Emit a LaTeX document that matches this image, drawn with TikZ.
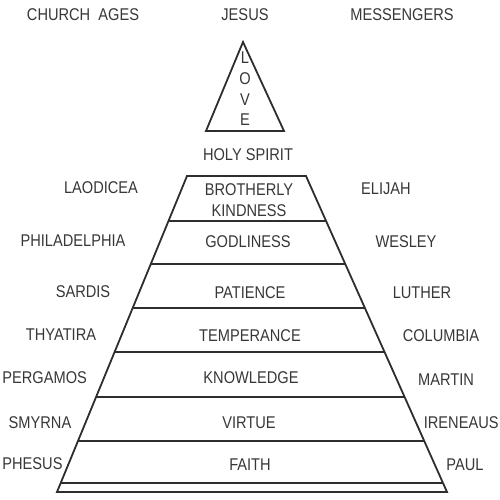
\documentclass[tikz,border=0pt]{standalone}
\usepackage{fontspec}
\setmainfont[FakeStretch=0.86]{Liberation Sans}
\usetikzlibrary{calc}
\definecolor{myink}{RGB}{45,45,45}
\definecolor{mytext}{RGB}{55,55,55}

\begin{document}
\begin{tikzpicture}[x=0.5pt,y=-0.5pt,
  lbl/.style={text=mytext,inner sep=0pt,font=\fontsize{8.5}{10}\selectfont},
  edge/.style={myink,line width=0.9pt}]
\useasboundingbox (0,0) rectangle (500,500);

% headings
\node[lbl] (ages) at (83,15) {CHURCH\ \ AGES};
\node[lbl] (jesus) at (245,15) {JESUS};
\node[lbl] (msg) at (402,15) {MESSENGERS};

% love triangle
\draw[edge,line join=miter] (243,42) -- (284,131) -- (206,131) -- cycle;
\foreach \n/\l/\y in {l/L/58,o/O/79,v/V/100,e/E/120}{
  \node[lbl] (love-\n) at (245,\y) {\l};
}
\node[lbl] (spirit) at (248,155) {HOLY SPIRIT};

% pyramid
\coordinate (tl) at (187,176);
\coordinate (tr) at (306,176);
\coordinate (bl) at (57,492);
\coordinate (br) at (447,492);
\draw[edge] (tl) -- (tr) -- (br) -- (bl) -- cycle;
\foreach \t in {0.1424,0.2785,0.4177,0.5570,0.6994,0.8386,0.9715}{
  \draw[edge] ($(tl)!\t!(bl)$) -- ($(tr)!\t!(br)$);
}

% virtues
\node[lbl] (brother) at (249,190) {BROTHERLY};
\node[lbl] (kind) at (249,211) {KINDNESS};
\node[lbl] (godly) at (248,242) {GODLINESS};
\node[lbl] (patience) at (250,293) {PATIENCE};
\node[lbl] (temper) at (250,336) {TEMPERANCE};
\node[lbl] (know) at (251,378) {KNOWLEDGE};
\node[lbl] (virtue) at (249,423) {VIRTUE};
\node[lbl] (faith) at (250,465) {FAITH};

% church ages
\node[lbl] (laodicea) at (101,188) {LAODICEA};
\node[lbl] (phila) at (73,241) {PHILADELPHIA};
\node[lbl] (sardis) at (83,292) {SARDIS};
\node[lbl] (thyatira) at (61,335) {THYATIRA};
\node[lbl,anchor=west] (pergamos) at (2,378) {PERGAMOS};
\node[lbl] (smyrna) at (40,423) {SMYRNA};
\node[lbl,anchor=west] (ephesus) at (2,464) {PHESUS};

% messengers
\node[lbl] (elijah) at (386,189) {ELIJAH};
\node[lbl] (wesley) at (406,242) {WESLEY};
\node[lbl] (luther) at (422,293) {LUTHER};
\node[lbl] (columbia) at (441,336) {COLUMBIA};
\node[lbl] (martin) at (446,380) {MARTIN};
\node[lbl,anchor=east] (ireneaus) at (499,423) {IRENEAUS};
\node[lbl] (paul) at (465,465) {PAUL};

\end{tikzpicture}
\end{document}
